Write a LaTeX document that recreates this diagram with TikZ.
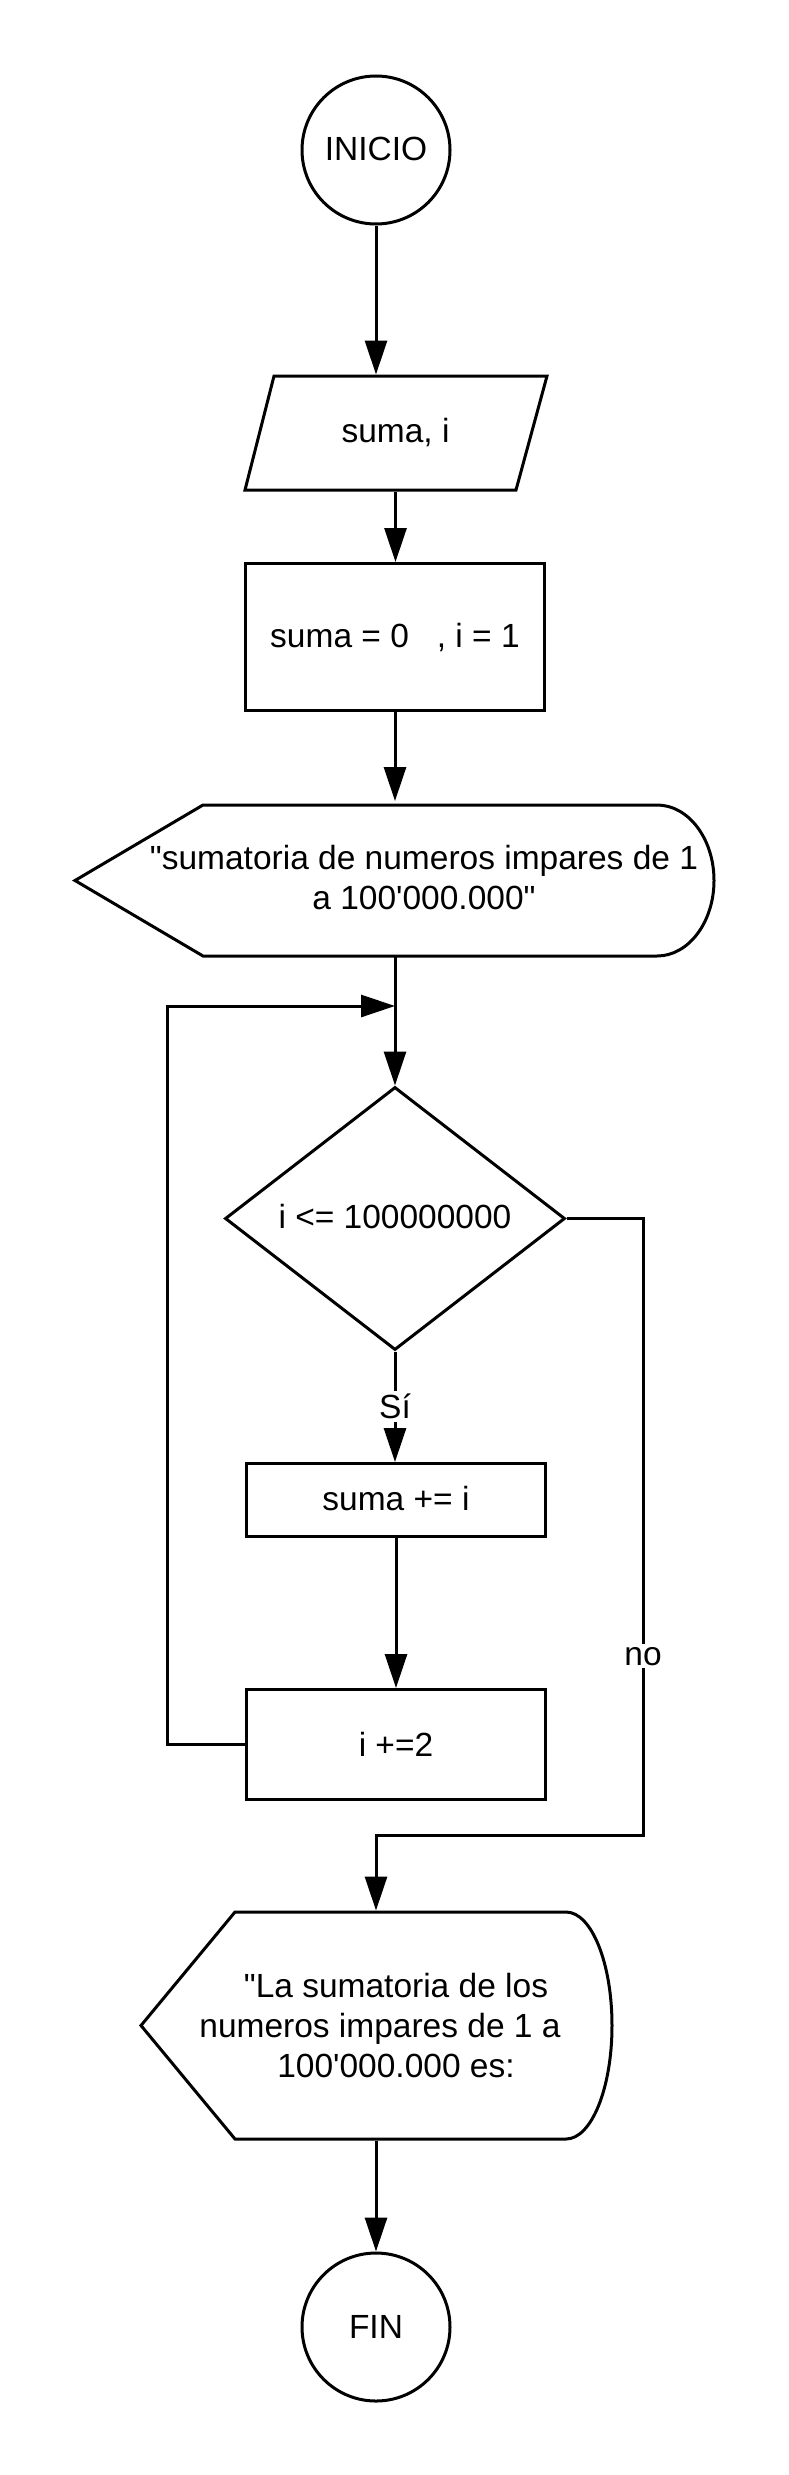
\documentclass[tikz,border=0pt]{standalone}
\usepackage{fontspec}
\setmainfont{Liberation Sans}
\usetikzlibrary{arrows.meta,shapes.geometric}
\begin{document}
\begin{tikzpicture}[x=1pt,y=-1pt,line width=3pt,
  every node/.style={font=\fontsize{33.5}{40}\selectfont},
  arr/.style={-{Triangle[length=34pt,width=22pt]}},
  term/.style={circle,draw,minimum size=148pt,inner sep=0pt},
  procbox/.style={draw,minimum width=299pt,inner sep=0pt},
  lbl/.style={fill=white,inner sep=3pt}]
\useasboundingbox (0,0) rectangle (788,2475);

% start
\node[term] (ini) at (376,150) {\raisebox{3pt}{INICIO}};

% input parallelogram
\draw (274,376) -- (547,376) -- (516,490) -- (245,490) -- cycle;
\node[minimum width=273pt,minimum height=114pt,inner sep=0pt] (par) at (395.5,433) {suma, i};

% init
\node[procbox,minimum height=147pt] (rect) at (395,637) {suma = 0\ \ \ , i = 1};

% display 1
\draw (75,880.5) -- (203,805) -- (657,805)
  arc[start angle=90,end angle=-90,x radius=57pt,y radius=75.5pt]
  -- (203,956) -- cycle;
\node[minimum height=151pt,inner sep=0pt,align=center] (disp1) at (424,878)
  {\textquotedbl sumatoria de numeros impares de 1\\a 100\textquotesingle000.000\textquotedbl};

% decision
\node[diamond,draw,aspect=1.29,minimum width=340pt,minimum height=263pt,inner sep=0pt] (dia) at (395,1218.5) {\raisebox{4pt}{i <= 100000000}};
\coordinate (join) at (395,1006);

% loop body
\node[procbox,minimum height=73pt] (box1) at (396,1500) {\raisebox{4pt}{suma += i}};
\node[procbox,minimum height=110pt] (box2) at (396,1744.5) {i +=2};

% display 2
\draw (141,2025.5) -- (235,1912) -- (566,1912)
  arc[start angle=90,end angle=-90,x radius=46pt,y radius=113.5pt]
  -- (235,2139) -- cycle;
\node[minimum height=227pt,inner sep=0pt,align=center] (disp2) at (396,2025.5)
  {\textquotedbl La sumatoria de los\\numeros impares de 1 a\rule{32pt}{0pt}\\100\textquotesingle000.000 es:};

% end
\node[term] (fin) at (376,2327) {FIN};
\coordinate (nr) at (643,1835);

% connectors
\draw[arr] (ini.south) -- (ini.south |- par.north);
\draw[arr] (par.south) -- (par.south |- rect.north);
\draw[arr] (rect.south) -- (rect.south |- disp1.north);
\draw[arr] (rect.south |- disp1.south) -- (dia.north);
\draw[arr] (dia.south) -- node[lbl] {Sí} (dia.south |- box1.north);
\draw[arr] (box1.south) -- (box1.south |- box2.north);
\draw[arr] (box2.west) -- ++(-78,0) |- (join);
\draw[arr] (dia.east) -- (dia.east -| nr) -- node[lbl,pos=0.71] {no} (nr) -- (nr -| fin.north) -- (fin.north |- disp2.north);
\draw[arr] (fin.north |- disp2.south) -- (fin.north);
\end{tikzpicture}
\end{document}
